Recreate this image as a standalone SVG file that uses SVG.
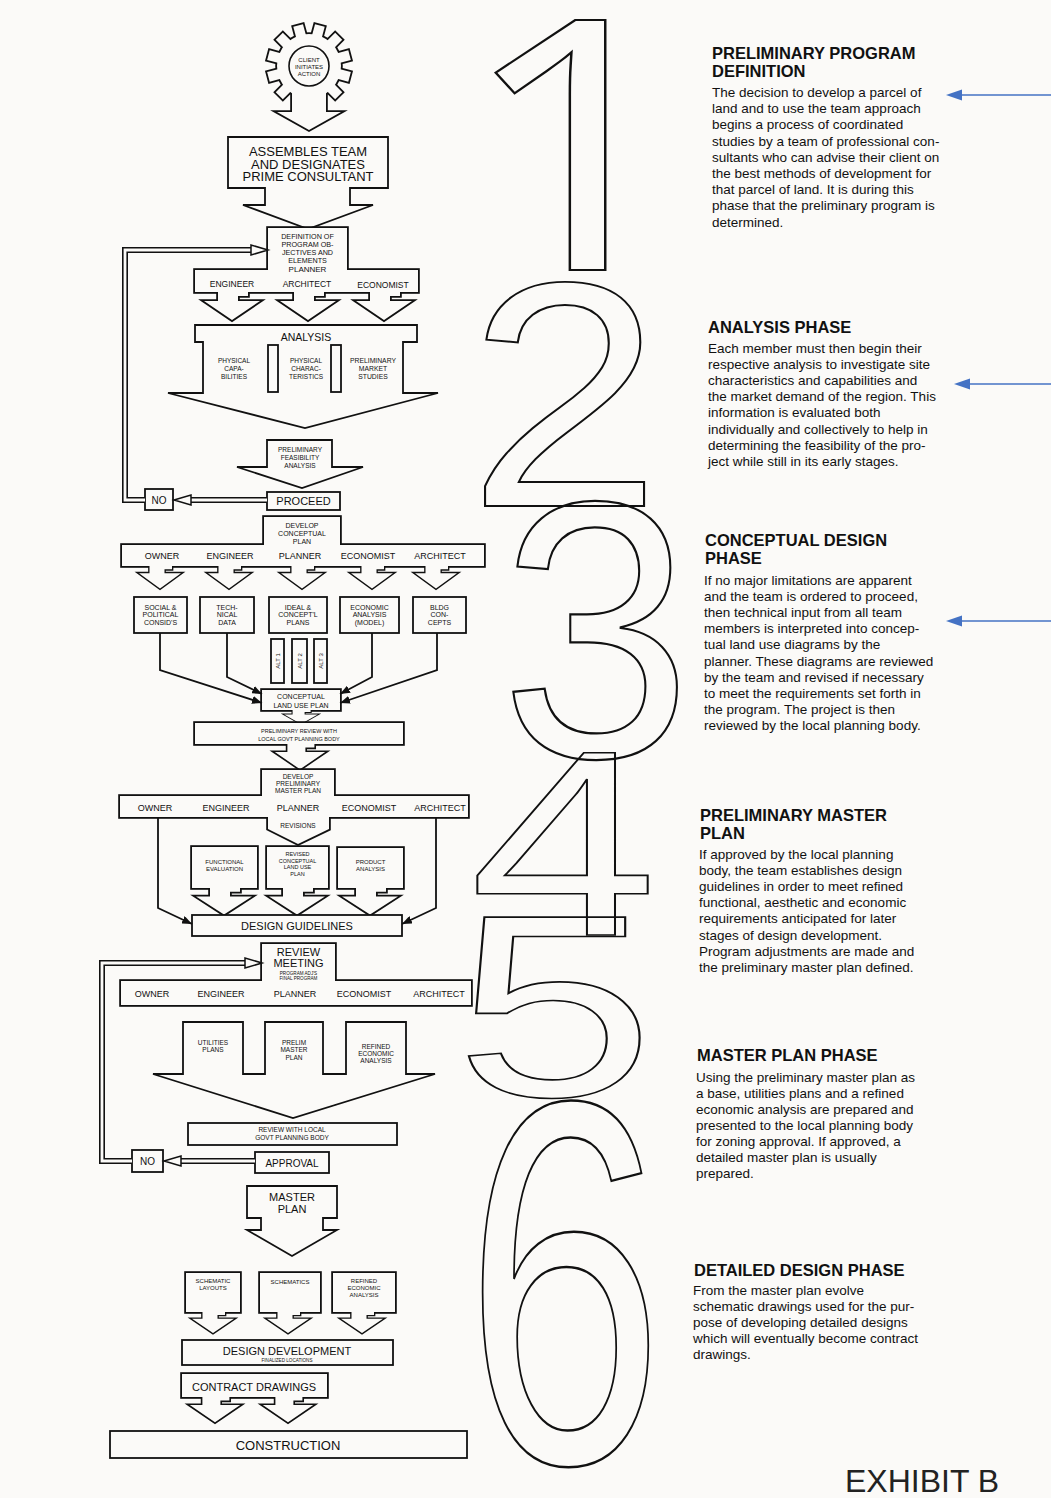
<svg xmlns="http://www.w3.org/2000/svg" width="1051" height="1498" viewBox="0 0 1051 1498">
<style>
.bg{fill:#fbfaf8}
.o{fill:none;stroke:#111;stroke-width:3.6;stroke-linejoin:miter}
.f{fill:#fbfaf8;stroke:none}
.s{fill:#fbfaf8;stroke:#111;stroke-width:1.8}
.t{font-family:"Liberation Sans",Arial,Helvetica,sans-serif;fill:#111;text-anchor:middle}
.b{font-family:"Liberation Sans",Arial,Helvetica,sans-serif;fill:#111;font-size:13.5px}
.h{font-family:"Liberation Sans",Arial,Helvetica,sans-serif;fill:#111;font-size:16.5px;font-weight:bold}
.num{font-family:"Liberation Sans",Arial,sans-serif;font-size:100px;fill:none;stroke:#111;stroke-width:0.6}
.ln{fill:none;stroke:#111;stroke-width:1.8}
.dlo{fill:none;stroke:#111;stroke-width:6}
.dli{fill:none;stroke:#fbfaf8;stroke-width:2.8}
.hh{fill:#fbfaf8;stroke:#111;stroke-width:1.5}
.blue{stroke:#4472c4;stroke-width:1.6;fill:none}
</style>
<defs>
<marker id="ah" viewBox="0 0 10 8" refX="10" refY="4" markerWidth="10" markerHeight="8" markerUnits="userSpaceOnUse" orient="auto"><path d="M0,0 L10,4 L0,8 z" fill="#111"/></marker>
<path id="arr" d="M-14,-2 V9 H-28 L0,28 L28,9 H6 V4 H16 V-2 Z"/>
<rect id="tooth" x="-5" y="-42" width="10" height="16"/>
<g id="gGear">
<circle cx="309" cy="66" r="32"/>
<use href="#tooth" transform="translate(309,66) rotate(15)"/>
<use href="#tooth" transform="translate(309,66) rotate(45)"/>
<use href="#tooth" transform="translate(309,66) rotate(75)"/>
<use href="#tooth" transform="translate(309,66) rotate(105)"/>
<use href="#tooth" transform="translate(309,66) rotate(135)"/>
<use href="#tooth" transform="translate(309,66) rotate(225)"/>
<use href="#tooth" transform="translate(309,66) rotate(255)"/>
<use href="#tooth" transform="translate(309,66) rotate(285)"/>
<use href="#tooth" transform="translate(309,66) rotate(315)"/>
<use href="#tooth" transform="translate(309,66) rotate(345)"/>
<polygon points="292,85 292,112 277,112 309,130 341,112 326,112 326,85"/>
</g>
<g id="gDef">
<rect x="268" y="228" width="79" height="42"/>
<rect x="195" y="270" width="223" height="22"/>
<use href="#arr" transform="translate(232,292)"/>
<use href="#arr" transform="translate(308,292)"/>
<use href="#arr" transform="translate(384,292)"/>
</g>
<g id="gDcp">
<rect x="264" y="517" width="76" height="28"/>
<rect x="122" y="545" width="362" height="21"/>
<use href="#arr" transform="translate(160,566) scale(0.75,0.8)"/>
<use href="#arr" transform="translate(229,566) scale(0.75,0.8)"/>
<use href="#arr" transform="translate(302,566) scale(0.75,0.8)"/>
<use href="#arr" transform="translate(372,566) scale(0.75,0.8)"/>
<use href="#arr" transform="translate(436,566) scale(0.75,0.8)"/>
</g>
<g id="gClu">
<rect x="262" y="690" width="78" height="20"/>
<use href="#arr" transform="translate(301,710) scale(0.6,0.5)"/>
</g>
<g id="gPr">
<rect x="195" y="723" width="208" height="21"/>
<use href="#arr" transform="translate(300,744) scale(0.9,0.9)"/>
</g>
<g id="gDpm">
<rect x="262" y="770" width="72" height="26"/>
<rect x="120" y="796" width="348" height="21"/>
<polygon points="268,815 268,829 298,844 329,829 329,815"/>
</g>
<g id="gFe"><rect x="192" y="847" width="65" height="41"/><use href="#arr" transform="translate(224,888) scale(1,0.95)"/></g>
<g id="gRc"><rect x="267" y="847" width="61" height="41"/><use href="#arr" transform="translate(297,888) scale(1,0.95)"/></g>
<g id="gPa"><rect x="338" y="848" width="65" height="40"/><use href="#arr" transform="translate(370,888) scale(1,0.95)"/></g>
<g id="gRm">
<rect x="262" y="944" width="73" height="37"/>
<rect x="121" y="981" width="350" height="24"/>
</g>
<g id="gSl"><rect x="186" y="1273" width="54" height="39"/><use href="#arr" transform="translate(213,1312) scale(0.75)"/></g>
<g id="gSc"><rect x="260" y="1273" width="60" height="39"/><use href="#arr" transform="translate(288,1312) scale(0.75)"/></g>
<g id="gRe"><rect x="333" y="1273" width="62" height="39"/><use href="#arr" transform="translate(362,1312) scale(0.75)"/></g>
<g id="gCd">
<rect x="182" y="1374" width="145" height="23"/>
<use href="#arr" transform="translate(215,1397) scale(0.9)"/>
<use href="#arr" transform="translate(288,1397) scale(0.9)"/>
</g>
</defs>

<rect class="bg" x="0" y="0" width="1051" height="1498"/>

<!-- big phase numerals -->
<g id="phase-numerals">
<text class="num" style="font-family:'Noto Sans','Open Sans',Roboto,sans-serif" transform="translate(459,270) scale(4.12,3.5)">1</text>
<text class="num" transform="translate(467.5,506) scale(3.49,3.21)">2</text>
<text class="num" transform="translate(500.2,756.5) scale(3.45,3.66)">3</text>
<text class="num" transform="translate(469.6,935) scale(3.38,2.65)">4</text>
<text class="num" transform="translate(454.5,1096) scale(3.6,2.6)">5</text>
<text class="num" style="stroke-width:0.48" transform="translate(464.4,1462.2) scale(3.59,5.18)">6</text>
</g>

<!-- flowchart nodes -->
<g id="node-client">
<use href="#gGear" class="o"/><use href="#gGear" class="f"/>
<circle cx="309" cy="66" r="20" fill="none" stroke="#111" stroke-width="1.6"/>
<text class="t" font-size="6" x="309" y="62">CLIENT</text>
<text class="t" font-size="6" x="309" y="69">INITIATES</text>
<text class="t" font-size="6" x="309" y="76">ACTION</text>
</g>

<g id="node-assembles">
<polygon class="s" points="228,137 388,137 388,188 350,188 350,205 373,205 308,229 243,205 265,205 265,188 228,188"/>
<text class="t" font-size="13" x="308" y="156">ASSEMBLES TEAM</text>
<text class="t" font-size="13" x="308" y="168.5">AND DESIGNATES</text>
<text class="t" font-size="13" x="308" y="181">PRIME CONSULTANT</text>
</g>

<g id="node-definition">
<use href="#gDef" class="o"/><use href="#gDef" class="f"/>
<text class="t" font-size="7.2" x="307.5" y="239">DEFINITION OF</text>
<text class="t" font-size="7.2" x="307.5" y="247">PROGRAM OB-</text>
<text class="t" font-size="7.2" x="307.5" y="255">JECTIVES AND</text>
<text class="t" font-size="7.2" x="307.5" y="263">ELEMENTS</text>
<text class="t" font-size="8" x="307.5" y="272">PLANNER</text>
<text class="t" font-size="8.5" x="232" y="287">ENGINEER</text>
<text class="t" font-size="8.5" x="307" y="287">ARCHITECT</text>
<text class="t" font-size="8.5" x="383" y="288">ECONOMIST</text>
</g>

<g id="node-analysis">
<polygon class="s" points="195,325 417,325 417,342 403,342 403,393 438,393 305,428 168,393 203,393 203,342 195,342"/>
<rect class="s" x="268" y="345" width="10" height="47"/>
<rect class="s" x="331" y="345" width="10" height="47"/>
<text class="t" font-size="10.5" x="306" y="341">ANALYSIS</text>
<text class="t" font-size="6.5" x="234" y="363">PHYSICAL</text>
<text class="t" font-size="6.5" x="234" y="370.5">CAPA-</text>
<text class="t" font-size="6.5" x="234" y="378.5">BILITIES</text>
<text class="t" font-size="6.5" x="306" y="363">PHYSICAL</text>
<text class="t" font-size="6.5" x="306" y="370.5">CHARAC-</text>
<text class="t" font-size="6.5" x="306" y="378.5">TERISTICS</text>
<text class="t" font-size="6.8" x="373" y="363">PRELIMINARY</text>
<text class="t" font-size="6.8" x="373" y="370.5">MARKET</text>
<text class="t" font-size="6.8" x="373" y="378.5">STUDIES</text>
</g>

<g id="node-feasibility">
<polygon class="s" points="267,440 332,440 332,467 363,467 302,488 237,467 267,467"/>
<text class="t" font-size="6.5" x="300" y="451.5">PRELIMINARY</text>
<text class="t" font-size="6.5" x="300" y="459.5">FEASIBILITY</text>
<text class="t" font-size="6.5" x="300" y="467.5">ANALYSIS</text>
</g>

<g id="node-proceed">
<rect class="s" x="267" y="492" width="73" height="18"/>
<text class="t" font-size="11" x="303.5" y="505">PROCEED</text>
</g>
<g id="node-no1">
<rect class="s" x="145" y="489" width="28" height="21"/>
<text class="t" font-size="10" x="159" y="503.5">NO</text>
</g>

<g id="node-develop-conceptual">
<use href="#gDcp" class="o"/><use href="#gDcp" class="f"/>
<text class="t" font-size="7" x="302" y="528">DEVELOP</text>
<text class="t" font-size="7" x="302" y="536">CONCEPTUAL</text>
<text class="t" font-size="7" x="302" y="544">PLAN</text>
<text class="t" font-size="9" x="162" y="559">OWNER</text>
<text class="t" font-size="9" x="230" y="559">ENGINEER</text>
<text class="t" font-size="9" x="300" y="559">PLANNER</text>
<text class="t" font-size="9" x="368" y="559">ECONOMIST</text>
<text class="t" font-size="9" x="440" y="559">ARCHITECT</text>
</g>

<g id="node-social">
<rect class="s" x="134" y="597" width="53" height="36"/>
<text class="t" font-size="7" x="160.5" y="609.5">SOCIAL &amp;</text>
<text class="t" font-size="7" x="160.5" y="617">POLITICAL</text>
<text class="t" font-size="7" x="160.5" y="624.5">CONSID'S</text>
</g>
<g id="node-technical">
<rect class="s" x="200" y="597" width="54" height="36"/>
<text class="t" font-size="7" x="227" y="609.5">TECH-</text>
<text class="t" font-size="7" x="227" y="617">NICAL</text>
<text class="t" font-size="7" x="227" y="624.5">DATA</text>
</g>
<g id="node-ideal">
<rect class="s" x="269" y="597" width="58" height="36"/>
<text class="t" font-size="7" x="298" y="609.5">IDEAL &amp;</text>
<text class="t" font-size="7" x="298" y="617">CONCEPT'L</text>
<text class="t" font-size="7" x="298" y="624.5">PLANS</text>
</g>
<g id="node-economic">
<rect class="s" x="340" y="597" width="59" height="36"/>
<text class="t" font-size="7" x="369.5" y="609.5">ECONOMIC</text>
<text class="t" font-size="7" x="369.5" y="617">ANALYSIS</text>
<text class="t" font-size="7" x="369.5" y="624.5">(MODEL)</text>
</g>
<g id="node-bldg">
<rect class="s" x="413" y="597" width="53" height="36"/>
<text class="t" font-size="7" x="439.5" y="609.5">BLDG</text>
<text class="t" font-size="7" x="439.5" y="617">CON-</text>
<text class="t" font-size="7" x="439.5" y="624.5">CEPTS</text>
</g>

<g id="node-alts">
<rect class="s" x="271" y="639" width="13" height="44"/>
<rect class="s" x="292" y="639" width="15" height="44"/>
<rect class="s" x="314" y="639" width="13" height="44"/>
<text class="t" font-size="6" transform="translate(279.7,661) rotate(-90)">ALT 1</text>
<text class="t" font-size="6" transform="translate(301.7,661) rotate(-90)">ALT 2</text>
<text class="t" font-size="6" transform="translate(322.7,661) rotate(-90)">ALT 3</text>
</g>

<g id="node-conceptual-land-use">
<use href="#gClu" class="o"/><use href="#gClu" class="f"/>
<text class="t" font-size="7" x="301" y="699">CONCEPTUAL</text>
<text class="t" font-size="7" x="301" y="707.5">LAND USE PLAN</text>
</g>

<g id="node-prelim-review">
<use href="#gPr" class="o"/><use href="#gPr" class="f"/>
<text class="t" font-size="5.5" x="299" y="732.5">PRELIMINARY REVIEW WITH</text>
<text class="t" font-size="5.5" x="299" y="740.5">LOCAL GOVT PLANNING BODY</text>
</g>

<g id="node-develop-master">
<use href="#gDpm" class="o"/><use href="#gDpm" class="f"/>
<text class="t" font-size="6.5" x="298" y="779">DEVELOP</text>
<text class="t" font-size="6.5" x="298" y="786">PRELIMINARY</text>
<text class="t" font-size="6.5" x="298" y="793">MASTER PLAN</text>
<text class="t" font-size="9" x="155" y="811">OWNER</text>
<text class="t" font-size="9" x="226" y="811">ENGINEER</text>
<text class="t" font-size="9" x="298" y="811">PLANNER</text>
<text class="t" font-size="9" x="369" y="811">ECONOMIST</text>
<text class="t" font-size="9" x="440" y="811">ARCHITECT</text>
<text class="t" font-size="6.5" x="298" y="828">REVISIONS</text>
</g>

<g id="node-functional">
<use href="#gFe" class="o"/><use href="#gFe" class="f"/>
<text class="t" font-size="6" x="224.5" y="864">FUNCTIONAL</text>
<text class="t" font-size="6" x="224.5" y="871">EVALUATION</text>
</g>
<g id="node-revised">
<use href="#gRc" class="o"/><use href="#gRc" class="f"/>
<text class="t" font-size="5.5" x="297.5" y="856">REVISED</text>
<text class="t" font-size="5.5" x="297.5" y="862.5">CONCEPTUAL</text>
<text class="t" font-size="5.5" x="297.5" y="869">LAND USE</text>
<text class="t" font-size="5.5" x="297.5" y="875.5">PLAN</text>
</g>
<g id="node-product">
<use href="#gPa" class="o"/><use href="#gPa" class="f"/>
<text class="t" font-size="6" x="370.5" y="864">PRODUCT</text>
<text class="t" font-size="6" x="370.5" y="871">ANALYSIS</text>
</g>

<g id="node-design-guidelines">
<rect class="s" x="192" y="915" width="210" height="21"/>
<text class="t" font-size="11" x="297" y="930">DESIGN GUIDELINES</text>
</g>

<g id="node-review-meeting">
<use href="#gRm" class="o"/><use href="#gRm" class="f"/>
<text class="t" font-size="11" x="298.5" y="956">REVIEW</text>
<text class="t" font-size="11" x="298.5" y="967">MEETING</text>
<text class="t" font-size="4.6" x="298.5" y="974.5">PROGRAM ADJ'S</text>
<text class="t" font-size="4.6" x="298.5" y="980">FINAL PROGRAM</text>
<text class="t" font-size="9" x="152" y="997">OWNER</text>
<text class="t" font-size="9" x="221" y="997">ENGINEER</text>
<text class="t" font-size="9" x="295" y="997">PLANNER</text>
<text class="t" font-size="9" x="364" y="997">ECONOMIST</text>
<text class="t" font-size="9" x="439" y="997">ARCHITECT</text>
</g>

<g id="node-master-inputs">
<polygon class="s" points="183,1022 243,1022 243,1074 265,1074 265,1022 323,1022 323,1074 346,1074 346,1022 406,1022 406,1074 435,1074 293,1118 153,1074 183,1074"/>
<text class="t" font-size="6.5" x="213" y="1045">UTILITIES</text>
<text class="t" font-size="6.5" x="213" y="1052">PLANS</text>
<text class="t" font-size="6.5" x="294" y="1045">PRELIM</text>
<text class="t" font-size="6.5" x="294" y="1052">MASTER</text>
<text class="t" font-size="6.5" x="294" y="1060">PLAN</text>
<text class="t" font-size="6.5" x="376" y="1049">REFINED</text>
<text class="t" font-size="6.5" x="376" y="1056">ECONOMIC</text>
<text class="t" font-size="6.5" x="376" y="1063">ANALYSIS</text>
</g>

<g id="node-review-local">
<rect class="s" x="188" y="1123" width="209" height="22"/>
<text class="t" font-size="6.5" x="292" y="1132">REVIEW WITH LOCAL</text>
<text class="t" font-size="6.5" x="292" y="1140">GOVT PLANNING BODY</text>
</g>

<g id="node-no2">
<rect class="s" x="132" y="1150" width="31" height="22"/>
<text class="t" font-size="10" x="147.5" y="1165">NO</text>
</g>
<g id="node-approval">
<rect class="s" x="255" y="1152" width="74" height="21"/>
<text class="t" font-size="10" x="292" y="1166.5">APPROVAL</text>
</g>

<g id="node-master-plan">
<polygon class="s" points="247,1186 337,1186 337,1218 323,1218 323,1230 337,1230 292,1256 247,1230 261,1230 261,1218 247,1218"/>
<text class="t" font-size="11" x="292" y="1201">MASTER</text>
<text class="t" font-size="11" x="292" y="1213">PLAN</text>
</g>

<g id="node-schematic-layouts">
<use href="#gSl" class="o"/><use href="#gSl" class="f"/>
<text class="t" font-size="6" x="213" y="1283">SCHEMATIC</text>
<text class="t" font-size="6" x="213" y="1290">LAYOUTS</text>
</g>
<g id="node-schematics">
<use href="#gSc" class="o"/><use href="#gSc" class="f"/>
<text class="t" font-size="6" x="290" y="1284">SCHEMATICS</text>
</g>
<g id="node-refined-economic">
<use href="#gRe" class="o"/><use href="#gRe" class="f"/>
<text class="t" font-size="6" x="364" y="1283">REFINED</text>
<text class="t" font-size="6" x="364" y="1290">ECONOMIC</text>
<text class="t" font-size="6" x="364" y="1297">ANALYSIS</text>
</g>

<g id="node-design-development">
<rect class="s" x="182" y="1340" width="211" height="25"/>
<text class="t" font-size="11" x="287" y="1355">DESIGN DEVELOPMENT</text>
<text class="t" font-size="4.6" x="287" y="1362">FINALIZED LOCATIONS</text>
</g>

<g id="node-contract-drawings">
<use href="#gCd" class="o"/><use href="#gCd" class="f"/>
<text class="t" font-size="11" x="254" y="1391">CONTRACT DRAWINGS</text>
</g>

<g id="node-construction">
<rect class="s" x="110" y="1431" width="357" height="27"/>
<text class="t" font-size="13" x="288" y="1450">CONSTRUCTION</text>
</g>

<!-- connectors -->
<g id="connectors">
<path class="ln" marker-end="url(#ah)" d="M160,633 V670 L262,703"/>
<path class="ln" marker-end="url(#ah)" d="M227,633 V677 L262,694"/>
<path class="ln" marker-end="url(#ah)" d="M372,633 V677 L340,694"/>
<path class="ln" marker-end="url(#ah)" d="M437,633 V670 L340,703"/>
<path class="ln" marker-end="url(#ah)" d="M158,818 V908 L192,924"/>
<path class="ln" marker-end="url(#ah)" d="M436,818 V908 L402,924"/>
<path class="dlo" d="M145,500 H125 V250 H252"/>
<path class="dli" d="M145,500 H125 V250 H252"/>
<polygon class="hh" points="268,250 251,245 251,255"/>
<path class="dlo" d="M267,500 H190"/>
<path class="dli" d="M267,500 H190"/>
<polygon class="hh" points="174,500 191,495 191,505"/>
<path class="dlo" d="M132,1161 H102 V963 H246"/>
<path class="dli" d="M132,1161 H102 V963 H246"/>
<polygon class="hh" points="262,963 245,958 245,968"/>
<path class="dlo" d="M255,1161 H180"/>
<path class="dli" d="M255,1161 H180"/>
<polygon class="hh" points="164,1161 181,1156 181,1166"/>
</g>

<!-- blue pointers -->
<g id="pointers">
<line class="blue" x1="1051" y1="95" x2="960" y2="95"/>
<polygon points="946,95 962,89.5 962,100.5" fill="#4472c4"/>
<line class="blue" x1="1051" y1="384" x2="968" y2="384"/>
<polygon points="954,384 970,378.5 970,389.5" fill="#4472c4"/>
<line class="blue" x1="1051" y1="621" x2="960" y2="621"/>
<polygon points="946,621 962,615.5 962,626.5" fill="#4472c4"/>
</g>

<!-- phase descriptions -->
<g id="phase-1-text">
<text class="h" x="712" y="59">PRELIMINARY PROGRAM</text>
<text class="h" x="712" y="77">DEFINITION</text>
<text class="b" x="712" y="97">The decision to develop a parcel of</text>
<text class="b" x="712" y="113.2">land and to use the team approach</text>
<text class="b" x="712" y="129.4">begins a process of coordinated</text>
<text class="b" x="712" y="145.6">studies by a team of professional con-</text>
<text class="b" x="712" y="161.8">sultants who can advise their client on</text>
<text class="b" x="712" y="178">the best methods of development for</text>
<text class="b" x="712" y="194.2">that parcel of land. It is during this</text>
<text class="b" x="712" y="210.4">phase that the preliminary program is</text>
<text class="b" x="712" y="226.6">determined.</text>
</g>
<g id="phase-2-text">
<text class="h" x="708" y="333">ANALYSIS PHASE</text>
<text class="b" x="708" y="352.5">Each member must then begin their</text>
<text class="b" x="708" y="368.7">respective analysis to investigate site</text>
<text class="b" x="708" y="384.9">characteristics and capabilities and</text>
<text class="b" x="708" y="401.1">the market demand of the region. This</text>
<text class="b" x="708" y="417.3">information is evaluated both</text>
<text class="b" x="708" y="433.5">individually and collectively to help in</text>
<text class="b" x="708" y="449.7">determining the feasibility of the pro-</text>
<text class="b" x="708" y="465.9">ject while still in its early stages.</text>
</g>
<g id="phase-3-text">
<text class="h" x="705" y="546">CONCEPTUAL DESIGN</text>
<text class="h" x="705" y="564">PHASE</text>
<text class="b" x="704" y="584.5">If no major limitations are apparent</text>
<text class="b" x="704" y="600.7">and the team is ordered to proceed,</text>
<text class="b" x="704" y="616.9">then technical input from all team</text>
<text class="b" x="704" y="633.1">members is interpreted into concep-</text>
<text class="b" x="704" y="649.3">tual land use diagrams by the</text>
<text class="b" x="704" y="665.5">planner. These diagrams are reviewed</text>
<text class="b" x="704" y="681.7">by the team and revised if necessary</text>
<text class="b" x="704" y="697.9">to meet the requirements set forth in</text>
<text class="b" x="704" y="714.1">the program. The project is then</text>
<text class="b" x="704" y="730.3">reviewed by the local planning body.</text>
</g>
<g id="phase-4-text">
<text class="h" x="700" y="821">PRELIMINARY MASTER</text>
<text class="h" x="700" y="839">PLAN</text>
<text class="b" x="699" y="858.5">If approved by the local planning</text>
<text class="b" x="699" y="874.7">body, the team establishes design</text>
<text class="b" x="699" y="890.9">guidelines in order to meet refined</text>
<text class="b" x="699" y="907.1">functional, aesthetic and economic</text>
<text class="b" x="699" y="923.3">requirements anticipated for later</text>
<text class="b" x="699" y="939.5">stages of design development.</text>
<text class="b" x="699" y="955.7">Program adjustments are made and</text>
<text class="b" x="699" y="971.9">the preliminary master plan defined.</text>
</g>
<g id="phase-5-text">
<text class="h" x="697" y="1061">MASTER PLAN PHASE</text>
<text class="b" x="696" y="1081.5">Using the preliminary master plan as</text>
<text class="b" x="696" y="1097.6">a base, utilities plans and a refined</text>
<text class="b" x="696" y="1113.7">economic analysis are prepared and</text>
<text class="b" x="696" y="1129.8">presented to the local planning body</text>
<text class="b" x="696" y="1145.9">for zoning approval. If approved, a</text>
<text class="b" x="696" y="1162">detailed master plan is usually</text>
<text class="b" x="696" y="1178.1">prepared.</text>
</g>
<g id="phase-6-text">
<text class="h" x="694" y="1276">DETAILED DESIGN PHASE</text>
<text class="b" x="693" y="1294.5">From the master plan evolve</text>
<text class="b" x="693" y="1310.7">schematic drawings used for the pur-</text>
<text class="b" x="693" y="1326.9">pose of developing detailed designs</text>
<text class="b" x="693" y="1343.1">which will eventually become contract</text>
<text class="b" x="693" y="1359.3">drawings.</text>
</g>

<text id="exhibit" x="845" y="1492" font-family="Liberation Sans, Arial, sans-serif" font-size="32" fill="#222">EXHIBIT B</text>
</svg>
